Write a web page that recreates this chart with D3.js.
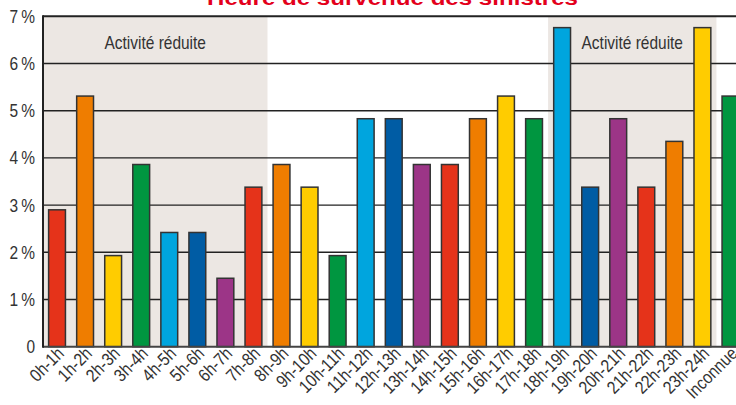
<!DOCTYPE html>
<html>
<head>
<meta charset="utf-8">
<script src="https://cdn.jsdelivr.net/npm/d3@7"></script>
<style>
  body { margin: 0; background: #fff; }
  svg { display: block; }
  .label { font-family: "Liberation Sans", Arial, sans-serif; fill: #333; }
</style>
</head>
<body>
<svg id="chart" width="736" height="405"></svg>
<script>
const TITLE = "Heure de survenue des sinistres";

const categories = [
  "0h-1h", "1h-2h", "2h-3h", "3h-4h", "4h-5h", "5h-6h", "6h-7h", "7h-8h",
  "8h-9h", "9h-10h", "10h-11h", "11h-12h", "12h-13h", "13h-14h", "14h-15h",
  "15h-16h", "16h-17h", "17h-18h", "18h-19h", "19h-20h", "20h-21h", "21h-22h",
  "22h-23h", "23h-24h", "Inconnue",
];

const values = [
  2.90, 5.31, 1.93, 3.86, 2.42, 2.42, 1.45, 3.38,
  3.86, 3.38, 1.93, 4.83, 4.83, 3.86, 3.86,
  4.83, 5.31, 4.83, 6.76, 3.38, 4.83, 3.38,
  4.35, 6.76, 5.31,
];

const palette = ["#e5331a", "#ef7d00", "#ffcc00", "#009640", "#00a5de", "#005ca4", "#9c3587"];

const yTicks = [0, 1, 2, 3, 4, 5, 6, 7];

// shaded "reduced activity" periods: [first category, last category]
const reducedPeriods = [
  ["0h-1h", "7h-8h"],
  ["18h-19h", "23h-24h"],
];
const reducedLabel = "Activité réduite";

// the source uses a condensed face; squeeze the regular one horizontally
const CONDENSE = 0.86;

const svg = d3.select("#chart");
const plotLeft = 43;
const plotTop = 16.3;
const plotBottom = 346.7;
const step = 28.06;

const x = d3.scaleBand()
  .domain(categories)
  .range([plotLeft, plotLeft + step * categories.length])
  .paddingInner(0.4)
  .paddingOuter(0.2);

const y = d3.scaleLinear().domain([0, 7]).range([plotBottom, plotTop]);

// title (mostly cut off at the top)
svg.append("text")
  .attr("x", 392.5)
  .attr("y", 4.5)
  .attr("text-anchor", "middle")
  .attr("font-family", "Liberation Sans, Arial, sans-serif")
  .attr("font-weight", "bold")
  .attr("font-size", 21)
  .attr("fill", "#e3001b")
  .attr("textLength", 371)
  .attr("lengthAdjust", "spacingAndGlyphs")
  .text(TITLE);

// shaded periods
const bandStart = (c) => x(c) - x.step() * x.paddingInner() / 2;
const bandEnd = (c) => x(c) + x.bandwidth() + x.step() * x.paddingInner() / 2;

svg.selectAll("rect.shade")
  .data(reducedPeriods)
  .join("rect")
  .attr("class", "shade")
  .attr("x", (d) => bandStart(d[0]))
  .attr("width", (d) => bandEnd(d[1]) - bandStart(d[0]))
  .attr("y", y(7))
  .attr("height", y(0) - y(7))
  .attr("fill", "#ece7e3");

// gridlines
svg.selectAll("line.grid")
  .data(yTicks.filter((t) => t > 0))
  .join("line")
  .attr("class", "grid")
  .attr("x1", plotLeft)
  .attr("x2", 736)
  .attr("y1", (d) => y(d))
  .attr("y2", (d) => y(d))
  .attr("stroke", "#222")
  .attr("stroke-width", (d) => (d === 7 ? 2 : 1.4));

svg.selectAll("text.shade-label")
  .data(reducedPeriods)
  .join("text")
  .attr("class", "label shade-label")
  .attr("text-anchor", "middle")
  .attr("font-size", 18)
  .attr("transform", (d) => {
    const cx = (bandStart(d[0]) + bandEnd(d[1])) / 2;
    return `translate(${cx},48.5) scale(${CONDENSE},1)`;
  })
  .text(reducedLabel);

// bars
svg.selectAll("rect.bar")
  .data(values)
  .join("rect")
  .attr("class", "bar")
  .attr("x", (d, i) => x(categories[i]))
  .attr("width", x.bandwidth())
  .attr("y", (d) => y(d))
  .attr("height", (d) => y(0) - y(d))
  .attr("fill", (d, i) => palette[i % palette.length])
  .attr("stroke", "#333")
  .attr("stroke-width", 1.5);

// axis lines
svg.append("line")
  .attr("x1", plotLeft).attr("x2", 736)
  .attr("y1", plotBottom).attr("y2", plotBottom)
  .attr("stroke", "#444").attr("stroke-width", 2);
svg.append("line")
  .attr("x1", plotLeft).attr("x2", plotLeft)
  .attr("y1", plotTop - 1).attr("y2", plotBottom + 1)
  .attr("stroke", "#222").attr("stroke-width", 2);

// y tick labels
svg.selectAll("text.ytick")
  .data(yTicks)
  .join("text")
  .attr("class", "label ytick")
  .attr("text-anchor", "end")
  .attr("font-size", 18)
  .attr("transform", (d) => `translate(35,${y(d) + 6.5}) scale(${CONDENSE},1)`)
  .text((d) => (d === 0 ? "0" : d + "\u2009%"));

// x tick labels, rotated
svg.selectAll("text.xtick")
  .data(categories)
  .join("text")
  .attr("class", "label xtick")
  .attr("text-anchor", "end")
  .attr("font-size", 18)
  .attr("transform", (d) => {
    const cx = x(d) + x.bandwidth() / 2 + 8;
    return `translate(${cx},${plotBottom + 8}) rotate(-45) scale(${CONDENSE},1)`;
  })
  .text((d) => d);
</script>
</body>
</html>
